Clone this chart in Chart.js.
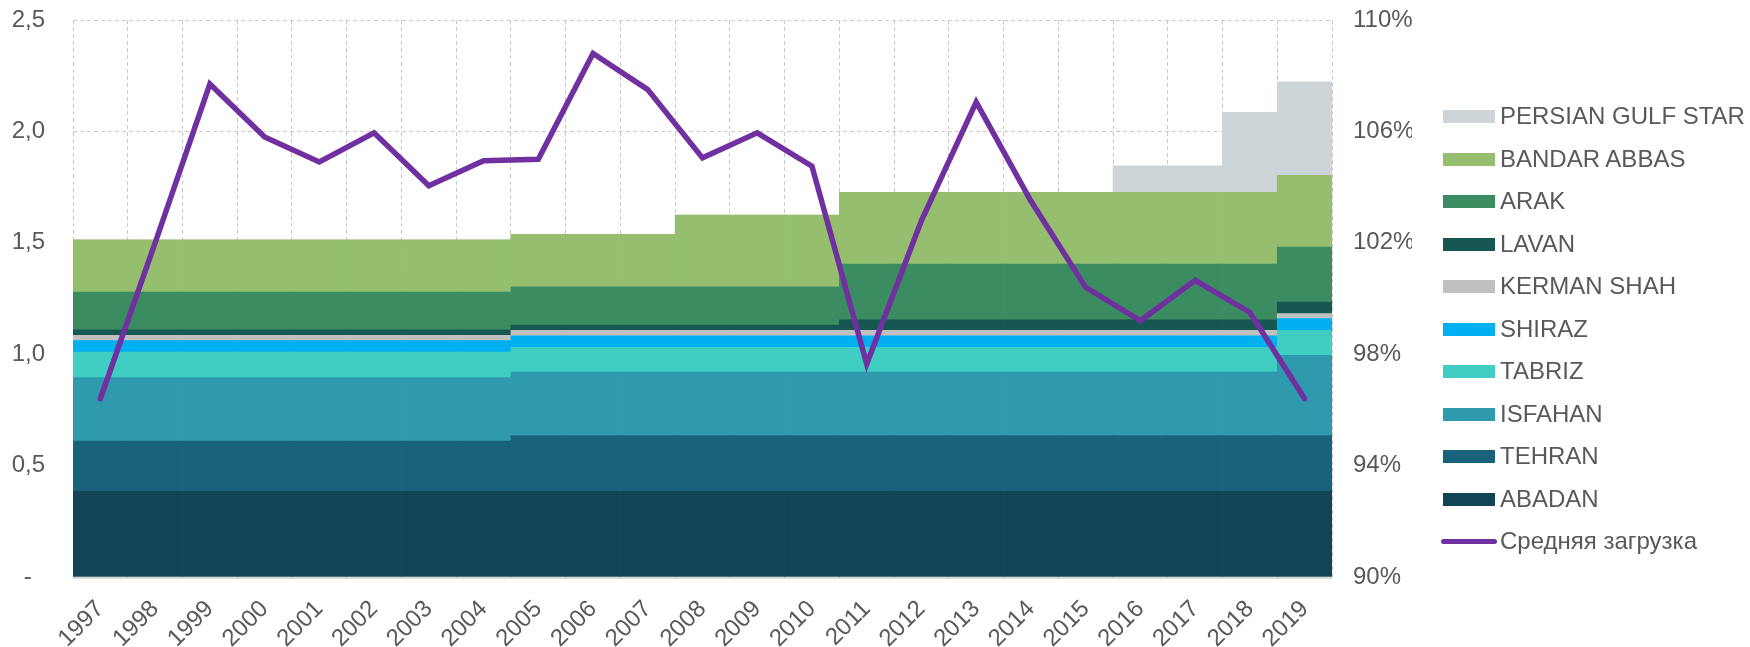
<!DOCTYPE html>
<html>
<head>
<meta charset="utf-8">
<script src="https://cdn.jsdelivr.net/npm/chart.js@4"></script>
<style>
    body { margin: 0; background: #fff; font-family: "Liberation Sans", Arial, sans-serif; }
    #wrap { position: relative; width: 1750px; height: 647px; }
    #legend { position: absolute; left: 1441px; top: 0; }
    .item { position: absolute; left: 0; height: 30px; white-space: nowrap; font-size: 24px; color: #595959; line-height: 30px; }
    .item .sw { position: absolute; left: 2px; top: 9px; width: 52px; height: 13px; }
    .item .ln { position: absolute; left: 0px; top: 13px; width: 56px; height: 5px; border-radius: 3px; }
    .item span.t { position: absolute; left: 59px; top: 0; }
</style>
</head>
<body>
<div id="wrap">
    <canvas id="chart" width="1750" height="647"></canvas>
    <div id="legend"></div>
</div>
<script>
// ==================== DATA ====================
const years = ['1997', '1998', '1999', '2000', '2001', '2002', '2003', '2004', '2005', '2006', '2007', '2008',
    '2009', '2010', '2011', '2012', '2013', '2014', '2015', '2016', '2017', '2018', '2019'];

//                 97     98     99     00     01     02     03     04     05     06     07     08     09     10     11     12     13     14     15     16     17     18     19
const abadan =   [0.385, 0.385, 0.385, 0.385, 0.385, 0.385, 0.385, 0.385, 0.385, 0.385, 0.385, 0.385, 0.385, 0.385, 0.385, 0.385, 0.385, 0.385, 0.385, 0.385, 0.385, 0.385, 0.385];
const tehran =   [0.225, 0.225, 0.225, 0.225, 0.225, 0.225, 0.225, 0.225, 0.25, 0.25, 0.25, 0.25, 0.25, 0.25, 0.25, 0.25, 0.25, 0.25, 0.25, 0.25, 0.25, 0.25, 0.25];
const isfahan =  [0.285, 0.285, 0.285, 0.285, 0.285, 0.285, 0.285, 0.285, 0.285, 0.285, 0.285, 0.285, 0.285, 0.285, 0.285, 0.285, 0.285, 0.285, 0.285, 0.285, 0.285, 0.285, 0.36];
const tabriz =   [0.114, 0.114, 0.114, 0.114, 0.114, 0.114, 0.114, 0.114, 0.11, 0.11, 0.11, 0.11, 0.11, 0.11, 0.11, 0.11, 0.11, 0.11, 0.11, 0.11, 0.11, 0.11, 0.112];
const shiraz =   [0.052, 0.052, 0.052, 0.052, 0.052, 0.052, 0.052, 0.052, 0.052, 0.052, 0.052, 0.052, 0.052, 0.052, 0.052, 0.052, 0.052, 0.052, 0.052, 0.052, 0.052, 0.052, 0.053];
const kerman =   [0.024, 0.024, 0.024, 0.024, 0.024, 0.024, 0.024, 0.024, 0.025, 0.025, 0.025, 0.025, 0.025, 0.025, 0.025, 0.025, 0.025, 0.025, 0.025, 0.025, 0.025, 0.025, 0.022];
const lavan =    [0.024, 0.024, 0.024, 0.024, 0.024, 0.024, 0.024, 0.024, 0.024, 0.024, 0.024, 0.024, 0.024, 0.024, 0.047, 0.047, 0.047, 0.047, 0.047, 0.047, 0.047, 0.047, 0.052];
const arak =     [0.17, 0.17, 0.17, 0.17, 0.17, 0.17, 0.17, 0.17, 0.171, 0.171, 0.171, 0.171, 0.171, 0.171, 0.25, 0.25, 0.25, 0.25, 0.25, 0.25, 0.25, 0.25, 0.247];
const bandar =   [0.234, 0.234, 0.234, 0.234, 0.234, 0.234, 0.234, 0.234, 0.236, 0.236, 0.236, 0.322, 0.322, 0.322, 0.322, 0.322, 0.322, 0.322, 0.322, 0.322, 0.322, 0.322, 0.322];
const pgs =      [0, 0, 0, 0, 0, 0, 0, 0, 0, 0, 0, 0, 0, 0, 0, 0, 0, 0, 0, 0.12, 0.12, 0.36, 0.42];

// average utilisation, %
const avgLoad =  [96.4, 102.0, 107.7, 105.8, 104.9, 105.95, 104.05, 104.95, 105.0, 108.8, 107.5, 105.05,
    105.95, 104.75, 97.65, 102.8, 107.05, 103.5, 100.4, 99.2, 100.65, 99.5, 96.4];

const leftTicks = [0, 0.5, 1.0, 1.5, 2.0, 2.5];
const rightTicks = [90, 94, 98, 102, 106, 110];

// ==================== CHART ====================
const refineries = [
    { label: 'ABADAN', data: abadan, color: '#124456' },
    { label: 'TEHRAN', data: tehran, color: '#19627B' },
    { label: 'ISFAHAN', data: isfahan, color: '#2F9AAD' },
    { label: 'TABRIZ', data: tabriz, color: '#40CEC3' },
    { label: 'SHIRAZ', data: shiraz, color: '#00B0F0' },
    { label: 'KERMAN SHAH', data: kerman, color: '#C0C0C0' },
    { label: 'LAVAN', data: lavan, color: '#175752' },
    { label: 'ARAK', data: arak, color: '#3C8C61' },
    { label: 'BANDAR ABBAS', data: bandar, color: '#95BF6E' },
    { label: 'PERSIAN GULF STAR', data: pgs, color: '#CDD5D8' }
];
const lineColor = '#7030A0';
const textColor = '#595959';
const gridColor = '#C8C8C8';
const font = { family: '"Liberation Sans", Arial, sans-serif', size: 24 };

const datasets = refineries.map(r => ({
    type: 'bar',
    label: r.label,
    data: r.data,
    backgroundColor: r.color,
    borderWidth: 0,
    barPercentage: 1,
    categoryPercentage: 1,
    yAxisID: 'y',
    order: 2
}));

datasets.push({
    type: 'line',
    label: 'Средняя загрузка',
    data: avgLoad,
    borderColor: lineColor,
    borderWidth: 5.5,
    borderCapStyle: 'round',
    pointRadius: 0,
    tension: 0,
    fill: false,
    yAxisID: 'y1',
    order: 0
});

// solid axis line under the bars (x border is dashed with the grid)
const baseLine = {
    id: 'baseLine',
    afterDatasetsDraw(c) {
        const a = c.chartArea, ctx = c.ctx;
        ctx.save();
        ctx.strokeStyle = '#D9D9D9';
        ctx.lineWidth = 2;
        ctx.beginPath();
        ctx.moveTo(a.left, a.bottom + 1);
        ctx.lineTo(a.right, a.bottom + 1);
        ctx.stroke();
        ctx.restore();
    }
};

// vertical axes: fixed width, no extra top/bottom padding from tick padding
const fixAxis = w => s => { s.width = w; s.paddingTop = 0; s.paddingBottom = 0; };

const chart = new Chart(document.getElementById('chart').getContext('2d'), {
    data: { labels: years, datasets: datasets },
    options: {
        responsive: false,
        animation: false,
        devicePixelRatio: 1,
        layout: { padding: { left: 0, right: 338, top: 20, bottom: 0 } },
        plugins: { legend: { display: false }, tooltip: { enabled: false } },
        scales: {
            x: {
                stacked: true,
                offset: true,
                afterFit: s => { s.height = 70; },
                grid: { offset: true, color: gridColor, lineWidth: 1, drawTicks: false },
                border: { display: false, dash: [4, 3] },
                ticks: { color: textColor, font: font, minRotation: 45, maxRotation: 45, padding: 18, autoSkip: false }
            },
            y: {
                stacked: true,
                min: 0, max: 2.5,
                afterBuildTicks: s => { s.ticks = leftTicks.map(v => ({ value: v })); },
                afterFit: fixAxis(73),
                grid: { color: gridColor, lineWidth: 1, drawTicks: false },
                border: { display: false, dash: [4, 3] },
                ticks: {
                    color: textColor, font: font, padding: 28,
                    callback: v => v === 0 ? '-  ' : v.toFixed(1).replace('.', ',')
                }
            },
            y1: {
                position: 'right',
                stacked: false,
                min: 90, max: 110,
                afterBuildTicks: s => { s.ticks = rightTicks.map(v => ({ value: v })); },
                afterFit: fixAxis(80),
                grid: { display: false, drawTicks: false },
                border: { display: false },
                ticks: { color: textColor, font: font, padding: 21, callback: v => v + '%' }
            }
        }
    },
    plugins: [baseLine]
});

// ==================== LEGEND ====================
const legend = document.getElementById('legend');
const order = refineries.slice().reverse();
order.forEach((r, i) => {
    const el = document.createElement('div');
    el.className = 'item';
    el.style.top = (101 + i * 42.5) + 'px';
    el.innerHTML = '<div class="sw" style="background:' + r.color + '"></div><span class="t">' + r.label + '</span>';
    legend.appendChild(el);
});
const lineItem = document.createElement('div');
lineItem.className = 'item';
lineItem.style.top = (101 + order.length * 42.5) + 'px';
lineItem.innerHTML = '<div class="ln" style="background:' + lineColor + '"></div><span class="t">Средняя загрузка</span>';
legend.appendChild(lineItem);
</script>
</body>
</html>
